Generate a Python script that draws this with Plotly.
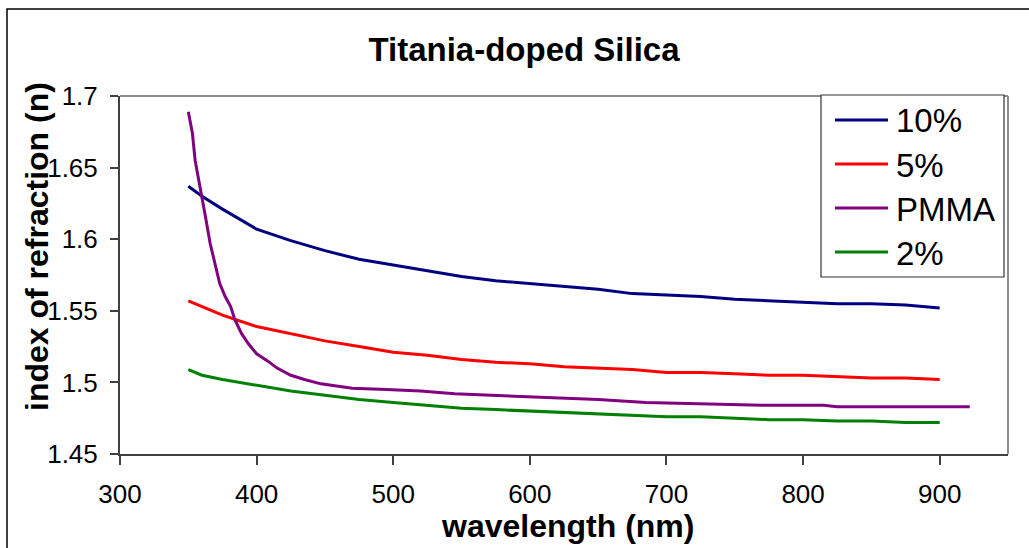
import plotly.graph_objects as go

# ---- data ----
wl = [350, 360, 375, 400, 425, 450, 475, 500, 525, 550, 575, 600,
      625, 650, 675, 700, 725, 750, 775, 800, 825, 850, 875, 900]
n_10 = [1.637, 1.630, 1.621, 1.607, 1.599, 1.592, 1.586, 1.582, 1.578, 1.574, 1.571, 1.569,
        1.567, 1.565, 1.562, 1.561, 1.560, 1.558, 1.557, 1.556, 1.555, 1.555, 1.554, 1.552]
n_5 = [1.557, 1.553, 1.547, 1.539, 1.534, 1.529, 1.525, 1.521, 1.519, 1.516, 1.514, 1.513,
       1.511, 1.510, 1.509, 1.507, 1.507, 1.506, 1.505, 1.505, 1.504, 1.503, 1.503, 1.502]
n_2 = [1.509, 1.505, 1.502, 1.498, 1.494, 1.491, 1.488, 1.486, 1.484, 1.482, 1.481, 1.480,
       1.479, 1.478, 1.477, 1.476, 1.476, 1.475, 1.474, 1.474, 1.473, 1.473, 1.472, 1.472]
wl_pmma = [350, 353, 355, 357.5, 360, 362.5, 366, 370, 373, 377, 381, 384, 389, 394, 400,
           408, 415, 425, 435, 447, 470, 495, 520, 545, 570, 595, 625, 650, 685, 720,
           770, 815, 825, 922]
n_pmma = [1.689, 1.674, 1.655, 1.641, 1.630, 1.616, 1.597, 1.581, 1.569, 1.560, 1.553, 1.544,
          1.534, 1.527, 1.520, 1.515, 1.510, 1.505, 1.502, 1.499, 1.496, 1.495, 1.494, 1.492,
          1.491, 1.490, 1.489, 1.488, 1.486, 1.485, 1.484, 1.484, 1.483, 1.483]

series = [
    ("10%", wl, n_10, "#000080"),
    ("5%", wl, n_5, "#FF0000"),
    ("PMMA", wl_pmma, n_pmma, "#800080"),
    ("2%", wl, n_2, "#008000"),
]

y_ticks = [1.45, 1.5, 1.55, 1.6, 1.65, 1.7]
y_tick_text = ["1.45", "1.5", "1.55", "1.6", "1.65", "1.7"]
x_ticks = [300, 400, 500, 600, 700, 800, 900]

FONT = "Arial, Liberation Sans, sans-serif"

fig = go.Figure()
for name, x, y, c in series:
    fig.add_trace(go.Scatter(x=x, y=y, mode="lines", name=name,
                             line=dict(color=c, width=3), showlegend=False))

W, H = 1029, 548
L, R, T, B = 120, 1008, 96, 454

def px(xp):
    return (xp - L) / (R - L)

def py(yp):
    return (B - yp) / (B - T)

shapes = []
annotations = []
# outer chart border (extends beyond the visible picture on right and bottom)
shapes.append(dict(type="rect", xref="paper", yref="paper",
                   x0=px(7), x1=px(1040), y0=py(560), y1=py(9),
                   line=dict(color="black", width=1.5), fillcolor="rgba(0,0,0,0)",
                   layer="below"))
# plot-area border (top and right, gray)
shapes.append(dict(type="line", xref="paper", yref="paper", x0=0, x1=1, y0=1, y1=1,
                   line=dict(color="#8c8c8c", width=2)))
shapes.append(dict(type="line", xref="paper", yref="paper", x0=1, x1=1, y0=0, y1=1,
                   line=dict(color="#8c8c8c", width=2)))

# legend box drawn manually
lx0, lx1, ly0, ly1 = 821, 1004, 95, 277
shapes.append(dict(type="rect", xref="paper", yref="paper",
                   x0=px(lx0), x1=px(lx1), y0=py(ly1), y1=py(ly0),
                   line=dict(color="#333333", width=1.2), fillcolor="white"))
leg_y = [120, 164, 208, 252]
for (name, _, _, c), yy in zip(series, leg_y):
    shapes.append(dict(type="line", xref="paper", yref="paper",
                       x0=px(835), x1=px(888), y0=py(yy), y1=py(yy),
                       line=dict(color=c, width=3)))
    annotations.append(dict(text=name, xref="paper", yref="paper",
                            x=px(894), y=py(yy + 1), xanchor="left", yanchor="middle",
                            showarrow=False, font=dict(family=FONT, size=33, color="black")))

# axis titles (placed as in the reference)
annotations.append(dict(text="<b>index of refraction (n)</b>", xref="paper", yref="paper",
                        x=px(37), y=py(247), xanchor="center", yanchor="middle",
                        textangle=-90, showarrow=False, borderpad=0,
                        font=dict(family=FONT, size=32, color="black")))
annotations.append(dict(text="<b>wavelength (nm)</b>", xref="paper", yref="paper",
                        x=px(567), y=py(526), xanchor="center", yanchor="middle",
                        showarrow=False, borderpad=0,
                        font=dict(family=FONT, size=32, color="black")))

fig.update_layout(
    width=W, height=H,
    margin=dict(l=L, r=W - R, t=T, b=H - B, autoexpand=False),
    paper_bgcolor="white", plot_bgcolor="white",
    title=dict(text="<b>Titania-doped Silica</b>", x=524 / W, xref="container",
               y=1 - 49 / H, yref="container", xanchor="center", yanchor="middle",
               font=dict(family=FONT, size=33, color="black")),
    xaxis=dict(range=[300, 950], tickvals=x_ticks, showgrid=False, zeroline=False,
               showline=True, linecolor="#404040", linewidth=2,
               ticks="outside", ticklen=9, tickcolor="#404040", tickwidth=1.5,
               tickfont=dict(family=FONT, size=26, color="black"),
               ticklabelstandoff=7),
    yaxis=dict(range=[1.45, 1.7], tickvals=y_ticks, ticktext=y_tick_text, showgrid=False,
               zeroline=False, showline=True, linecolor="#404040", linewidth=2,
               ticks="outside", ticklen=8, tickcolor="#404040", tickwidth=1.5,
               tickfont=dict(family=FONT, size=26, color="black"),
               ticklabelstandoff=7),
    shapes=shapes,
    annotations=annotations,
    showlegend=False,
)

fig.write_html("out.html", config={"displayModeBar": False},
               post_script="document.body.style.margin='0';")
